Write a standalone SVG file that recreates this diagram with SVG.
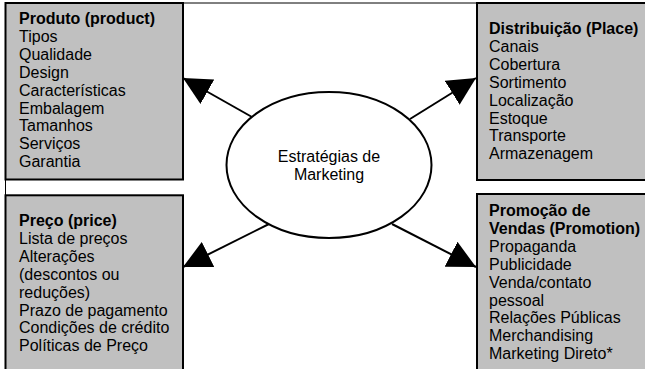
<svg xmlns="http://www.w3.org/2000/svg" width="645" height="369" viewBox="0 0 645 369">
<style>
.box{fill:#c0c0c0;stroke:#000;stroke-width:2}
.t{font-family:"Liberation Sans",Arial,sans-serif;font-size:16px;fill:#000}
.b{font-weight:bold}
.conn{stroke:#000;stroke-width:2;fill:none;marker-end:url(#ah)}
</style>
<defs>
<marker id="ah" markerUnits="userSpaceOnUse" markerWidth="28" markerHeight="28" viewBox="0 0 27 27" refX="27" refY="13.5" orient="auto">
<path d="M0,0 L27,13.5 L0,27 Z" fill="#000"/>
</marker>
</defs>
<rect x="0" y="0" width="645" height="369" fill="#fff"/>
<path d="M5.5,369 V3 H645" fill="none" stroke="#000" stroke-width="1"/>
<g id="produto">
<rect class="box" x="5.5" y="3" width="177.5" height="176.5"/>
<text class="t" x="19" y="24"><tspan class="b">Produto (product)</tspan><tspan x="19" dy="17.9">Tipos</tspan><tspan x="19" dy="17.9">Qualidade</tspan><tspan x="19" dy="17.9">Design</tspan><tspan x="19" dy="17.9">Características</tspan><tspan x="19" dy="17.9">Embalagem</tspan><tspan x="19" dy="17.9">Tamanhos</tspan><tspan x="19" dy="17.9">Serviços</tspan><tspan x="19" dy="17.9">Garantia</tspan></text>
</g>
<g id="distribuicao">
<rect class="box" x="477" y="3" width="180" height="177"/>
<text class="t" x="489" y="34"><tspan class="b">Distribuição (Place)</tspan><tspan x="489" dy="17.9">Canais</tspan><tspan x="489" dy="17.9">Cobertura</tspan><tspan x="489" dy="17.9">Sortimento</tspan><tspan x="489" dy="17.9">Localização</tspan><tspan x="489" dy="17.9">Estoque</tspan><tspan x="489" dy="17.9">Transporte</tspan><tspan x="489" dy="17.9">Armazenagem</tspan></text>
</g>
<g id="preco">
<rect class="box" x="5.5" y="195.3" width="177.5" height="190"/>
<text class="t" x="19" y="226"><tspan class="b">Preço (price)</tspan><tspan x="19" dy="17.9">Lista de preços</tspan><tspan x="19" dy="17.9">Alterações</tspan><tspan x="19" dy="17.9">(descontos ou</tspan><tspan x="19" dy="17.9">reduções)</tspan><tspan x="19" dy="17.9">Prazo de pagamento</tspan><tspan x="19" dy="17.9">Condições de crédito</tspan><tspan x="19" dy="17.9">Políticas de Preço</tspan></text>
</g>
<g id="promocao">
<rect class="box" x="477" y="194" width="180" height="190"/>
<text class="t" x="489" y="216"><tspan class="b">Promoção de</tspan><tspan x="489" dy="17.9" class="b">Vendas (Promotion)</tspan><tspan x="489" dy="17.9">Propaganda</tspan><tspan x="489" dy="17.9">Publicidade</tspan><tspan x="489" dy="17.9">Venda/contato</tspan><tspan x="489" dy="17.9">pessoal</tspan><tspan x="489" dy="17.9">Relações Públicas</tspan><tspan x="489" dy="17.9">Merchandising</tspan><tspan x="489" dy="17.9">Marketing Direto*</tspan></text>
</g>
<g id="estrategias">
<ellipse cx="329" cy="165" rx="102.5" ry="73" fill="#fff" stroke="#000" stroke-width="2"/>
<text class="t" x="329" y="162" text-anchor="middle">Estratégias de<tspan x="329" dy="17.9">Marketing</tspan></text>
</g>
<g id="connectors">
<line class="conn" x1="252" y1="117" x2="183" y2="78"/>
<line class="conn" x1="410" y1="119" x2="476" y2="78"/>
<line class="conn" x1="269" y1="224" x2="183" y2="267"/>
<line class="conn" x1="392" y1="224" x2="476" y2="267"/>
</g>
</svg>
